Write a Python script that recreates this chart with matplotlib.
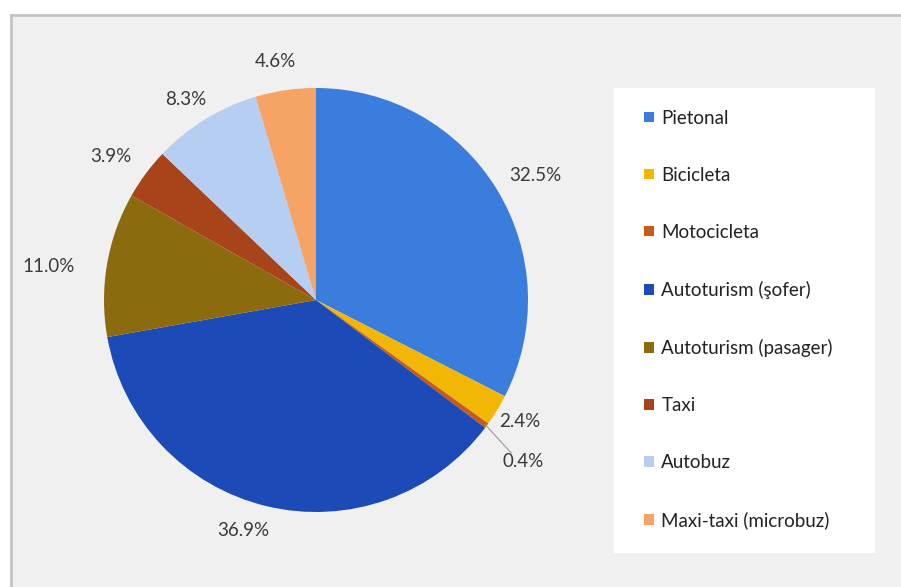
import numpy as np
import matplotlib
matplotlib.use("Agg")
import matplotlib.pyplot as plt
from matplotlib.patches import Rectangle
from matplotlib.lines import Line2D

categories = ["Pietonal", "Bicicleta", "Motocicleta", "Autoturism (şofer)",
              "Autoturism (pasager)", "Taxi", "Autobuz", "Maxi-taxi (microbuz)"]
values = [32.5, 2.4, 0.4, 36.9, 11.0, 3.9, 8.3, 4.6]
labels = ["32.5%", "2.4%", "0.4%", "36.9%", "11.0%", "3.9%", "8.3%", "4.6%"]

colors = ["#3b7ddd", "#f2b705", "#c65a1a", "#1c4bb8",
          "#8c6a0e", "#a8441a", "#b6cef2", "#f6a366"]
label_dist = [1.19, 1.12, 1.24, 1.14, 1.27, 1.18, 1.13, 1.14]
label_angle_adj = [-2, 0.5, -1.5, -4, 2.5, 1.5, 1.5, 1.5]

plt.rcParams['font.family'] = ['Lato', 'DejaVu Sans']

W, H = 901, 587
fig = plt.figure(figsize=(W/100, H/100), dpi=100)
fig.patch.set_facecolor("white")

def fx(px): return px / W
def fy(py): return 1 - py / H

# outer chart area
fig.patches.append(Rectangle((fx(11), 0), 1 - fx(11), fy(15), transform=fig.transFigure,
                             facecolor="#f0f0f0", edgecolor="none", zorder=-10))
fig.lines.append(Line2D([fx(11), fx(11)], [0, fy(15)], transform=fig.transFigure,
                        color="#c4c4c4", lw=2, zorder=-9))
fig.lines.append(Line2D([fx(11), 1], [fy(15), fy(15)], transform=fig.transFigure,
                        color="#c4c4c4", lw=2, zorder=-9))
# legend background
fig.patches.append(Rectangle((fx(614), fy(553)), fx(875) - fx(614), fy(88) - fy(553),
                             transform=fig.transFigure, facecolor="white",
                             edgecolor="none", zorder=-8))

cx, cy, R = 316, 300, 212
ax = fig.add_axes([fx(cx - R), fy(cy + R), 2 * R / W, 2 * R / H])
ax.set_zorder(2)

wedges, _ = ax.pie(values, colors=colors, startangle=90, counterclock=False,
                   radius=1.0, wedgeprops=dict(linewidth=0))
ax.set_xlim(-1, 1)
ax.set_ylim(-1, 1)
ax.set_aspect("equal")
ax.axis("off")

for w, lab, d, adj in zip(wedges, labels, label_dist, label_angle_adj):
    mid = np.deg2rad((w.theta1 + w.theta2) / 2 + adj)
    ax.text(d * np.cos(mid), d * np.sin(mid), lab, ha="center", va="center",
            fontsize=13.5, color="#3a3a3a", clip_on=False)

# leader line for small slice
w = wedges[2]
mid = np.deg2rad((w.theta1 + w.theta2) / 2)
ax.plot([0.99 * np.cos(mid), 1.17 * np.cos(mid - 0.03)],
        [0.99 * np.sin(mid), 1.17 * np.sin(mid - 0.03)],
        color="#999999", lw=0.8, clip_on=False)

leg = fig.legend(wedges, categories, loc="center left",
                 bbox_to_anchor=(fx(635), fy(319.5)), frameon=False,
                 fontsize=13.5, labelspacing=2.14, handlelength=0.5,
                 handleheight=0.5, handletextpad=0.4, borderpad=0)
for t in leg.get_texts():
    t.set_color("#222222")

fig.savefig("out.png", dpi=100)
